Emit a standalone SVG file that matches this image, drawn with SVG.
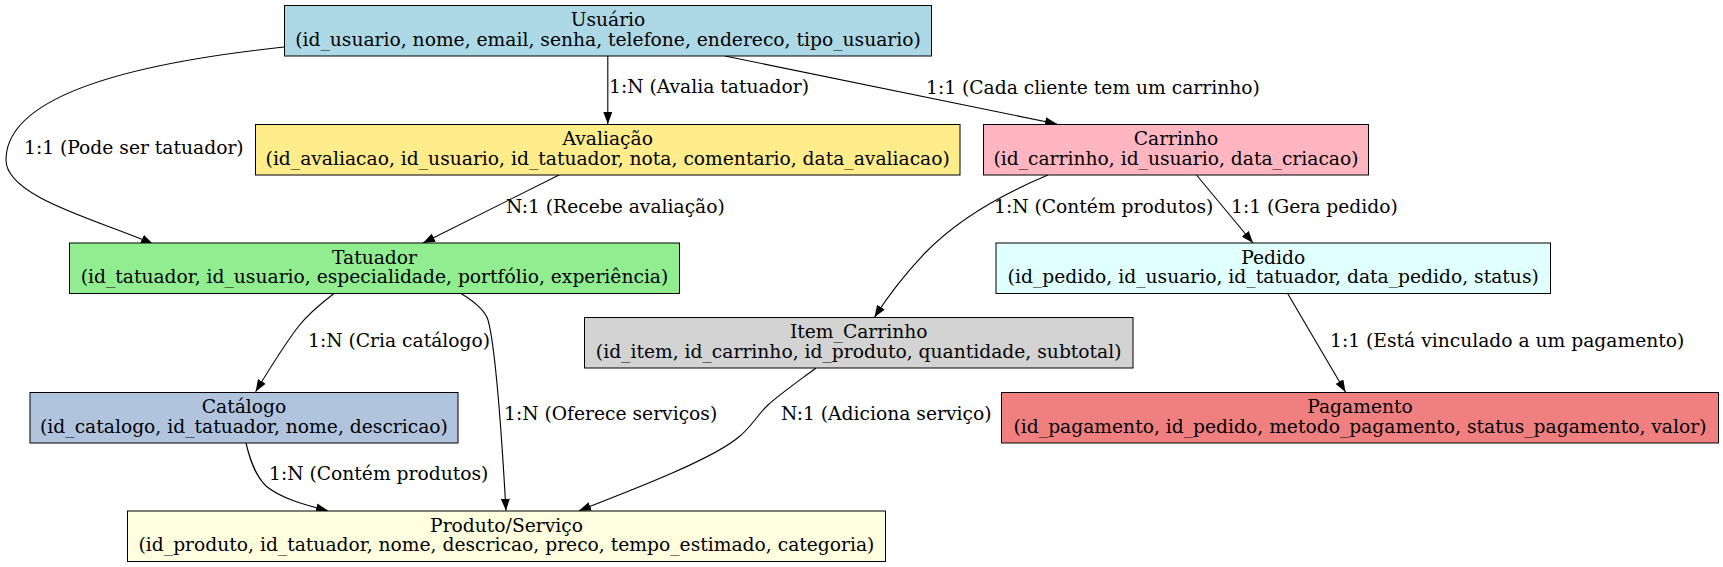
<svg xmlns="http://www.w3.org/2000/svg" width="1723" height="567" viewBox="0 0 1723 567">
<defs>
<style>
text { font-family: "DejaVu Serif", "Liberation Serif", serif; font-size: 18.7px; fill: #000; }
.t { text-anchor: middle; }
.box { stroke: #000; stroke-width: 1; }
.edge { fill: none; stroke: #000; stroke-width: 1.1; marker-end: url(#arr); }
</style>
<marker id="arr" markerUnits="userSpaceOnUse" viewBox="0 0 12 9" refX="12" refY="4.5" markerWidth="12" markerHeight="9" orient="auto">
<path d="M0,0 L12,4.5 L0,9 z" fill="#000"/>
</marker>
</defs>
<rect width="1723" height="567" fill="#fff"/>
<g id="connectors">
<path class="edge" d="M284,47 C190,57 6,82 6,160 C6,198 105,222 153,244"/>
<text x="24" y="154">1:1 (Pode ser tatuador)</text>
<path class="edge" d="M607.8,56 L607.8,124"/>
<text x="609" y="93">1:N (Avalia tatuador)</text>
<path class="edge" d="M725,56 L1057,124"/>
<text x="926" y="94">1:1 (Cada cliente tem um carrinho)</text>
<path class="edge" d="M559,175 L423,243"/>
<text x="506" y="213">N:1 (Recebe avaliação)</text>
<path class="edge" d="M1048,175 C1000,195 955,222 925,253 C905,274 888,296 874.5,317.3"/>
<text x="994" y="213">1:N (Contém produtos)</text>
<path class="edge" d="M1196.5,175 L1253,243"/>
<text x="1231" y="213">1:1 (Gera pedido)</text>
<path class="edge" d="M334,293.5 C315,308 305,318 298,327 C285,344 270,368 255.6,391.7"/>
<text x="308" y="347">1:N (Cria catálogo)</text>
<path class="edge" d="M461,293.5 C475,302 485,310 488,320 C495,345 502,440 506,510.7"/>
<text x="504" y="420">1:N (Oferece serviços)</text>
<path class="edge" d="M246,443 C250,460 255,475 266,486 C280,498 305,505 328,510.7"/>
<text x="269" y="480">1:N (Contém produtos)</text>
<path class="edge" d="M816,368 C800,380 780,394 768,405 C758,414 752,426 740,436 C715,458 640,487 579,510.7"/>
<text x="781" y="420">N:1 (Adiciona serviço)</text>
<path class="edge" d="M1287.5,293.3 L1345.5,392"/>
<text x="1330" y="347">1:1 (Está vinculado a um pagamento)</text>
</g>
<g id="usuario">
<rect class="box" x="284.5" y="5.5" width="647" height="50.5" fill="#add8e6"/>
<text class="t" x="608" y="26">Usuário</text>
<text class="t" x="608" y="45.5">(id_usuario, nome, email, senha, telefone, endereco, tipo_usuario)</text>
</g>
<g id="avaliacao">
<rect class="box" x="255.5" y="124.5" width="704.5" height="50.5" fill="#ffec8b"/>
<text class="t" x="607.7" y="145">Avaliação</text>
<text class="t" x="607.7" y="164.5">(id_avaliacao, id_usuario, id_tatuador, nota, comentario, data_avaliacao)</text>
</g>
<g id="carrinho">
<rect class="box" x="983.5" y="124.5" width="385" height="50.5" fill="#ffb6c1"/>
<text class="t" x="1176" y="145">Carrinho</text>
<text class="t" x="1176" y="164.5">(id_carrinho, id_usuario, data_criacao)</text>
</g>
<g id="tatuador">
<rect class="box" x="69.5" y="243" width="610" height="50.5" fill="#90ee90"/>
<text class="t" x="374.5" y="263.5">Tatuador</text>
<text class="t" x="374.5" y="283">(id_tatuador, id_usuario, especialidade, portfólio, experiência)</text>
</g>
<g id="pedido">
<rect class="box" x="996" y="243" width="554.5" height="50.5" fill="#e0ffff"/>
<text class="t" x="1273.2" y="263.5">Pedido</text>
<text class="t" x="1273.2" y="283">(id_pedido, id_usuario, id_tatuador, data_pedido, status)</text>
</g>
<g id="item_carrinho">
<rect class="box" x="584.5" y="317.5" width="548.5" height="50.5" fill="#d3d3d3"/>
<text class="t" x="858.7" y="338">Item_Carrinho</text>
<text class="t" x="858.7" y="357.5">(id_item, id_carrinho, id_produto, quantidade, subtotal)</text>
</g>
<g id="catalogo">
<rect class="box" x="30" y="392.5" width="428" height="50.5" fill="#b0c4de"/>
<text class="t" x="244" y="413">Catálogo</text>
<text class="t" x="244" y="432.5">(id_catalogo, id_tatuador, nome, descricao)</text>
</g>
<g id="pagamento">
<rect class="box" x="1001.5" y="392.5" width="717" height="50.5" fill="#f08080"/>
<text class="t" x="1360" y="413">Pagamento</text>
<text class="t" x="1360" y="432.5">(id_pagamento, id_pedido, metodo_pagamento, status_pagamento, valor)</text>
</g>
<g id="produto">
<rect class="box" x="127.5" y="511" width="758" height="50.5" fill="#ffffe0"/>
<text class="t" x="506.5" y="531.5">Produto/Serviço</text>
<text class="t" x="506.5" y="551">(id_produto, id_tatuador, nome, descricao, preco, tempo_estimado, categoria)</text>
</g>
</svg>
